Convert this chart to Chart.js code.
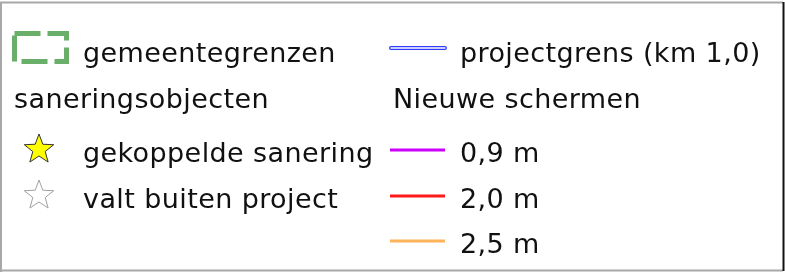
<!DOCTYPE html>
<html>
<head>
<meta charset="utf-8">
<script src="https://cdn.jsdelivr.net/npm/chart.js@4.4.1/dist/chart.umd.min.js"></script>
<style>
  html, body { margin: 0; padding: 0; background: #fff; }
  #wrap { width: 785px; height: 272px; }
</style>
</head>
<body>
<div id="wrap"><canvas id="legendChart" width="785" height="272"></canvas></div>
<script>
// legend content
const boundaryLabels = ["gemeentegrenzen", "projectgrens (km 1,0)"];
const objectHeader = "saneringsobjecten";
const objectLabels = ["gekoppelde sanering", "valt buiten project"];
const screenHeader = "Nieuwe schermen";
const screenLabels = ["0,9 m", "2,0 m", "2,5 m"];

// styles
const screenColors = ["#cc00ff", "#ff1a1a", "#ffb35c"];
const starFills = ["#ffff00", "#ffffff"];
const starStrokes = ["#333333", "#a0a0a0"];
const FONT = "27px 'DejaVu Sans'";

const rowY = [62, 108, 162, 208, 253];   // text baselines
const leftTextX = 83;
const rightIconX = 390, rightTextX = 460;

function star(ctx, cx, cy, r, fill, stroke) {
  ctx.beginPath();
  for (let i = 0; i < 10; i++) {
    const rr = i % 2 === 0 ? r : r * 0.42;
    const a = -Math.PI / 2 + i * Math.PI / 5;
    const px = cx + rr * Math.cos(a), py = cy + rr * Math.sin(a);
    i === 0 ? ctx.moveTo(px, py) : ctx.lineTo(px, py);
  }
  ctx.closePath();
  ctx.fillStyle = fill;
  ctx.fill();
  ctx.lineWidth = 1;
  ctx.strokeStyle = stroke;
  ctx.stroke();
}

const legendPlugin = {
  id: "mapLegend",
  afterDraw(chart) {
    const ctx = chart.ctx;
    ctx.save();
    // frame
    ctx.lineWidth = 2;
    ctx.strokeStyle = "#a8a8a8";
    ctx.beginPath();
    ctx.moveTo(1, 272); ctx.lineTo(1, 2.5); ctx.lineTo(783, 2.5);
    ctx.moveTo(1, 270.5); ctx.lineTo(783, 270.5);
    ctx.stroke();
    ctx.strokeStyle = "#111";
    ctx.beginPath();
    ctx.moveTo(783.5, 2); ctx.lineTo(783.5, 271);
    ctx.stroke();

    ctx.font = FONT;
    ctx.letterSpacing = "0.4px";
    ctx.fillStyle = "#111";
    ctx.textBaseline = "alphabetic";

    // row 1: boundaries
    ctx.save();
    ctx.strokeStyle = "#69ae69";
    ctx.lineWidth = 5;
    ctx.setLineDash([26, 7]);
    ctx.strokeRect(14.5, 33.5, 52, 28);
    ctx.restore();
    ctx.fillText(boundaryLabels[0], leftTextX, rowY[0]);

    ctx.save();
    ctx.lineCap = "round";
    ctx.strokeStyle = "#2a3cff";
    ctx.lineWidth = 4;
    ctx.beginPath(); ctx.moveTo(rightIconX + 1, 48); ctx.lineTo(rightIconX + 55, 48); ctx.stroke();
    ctx.strokeStyle = "#fff";
    ctx.lineWidth = 1.5;
    ctx.beginPath(); ctx.moveTo(rightIconX + 1, 48); ctx.lineTo(rightIconX + 55, 48); ctx.stroke();
    ctx.restore();
    ctx.fillText(boundaryLabels[1], rightTextX, rowY[0]);

    // headers
    ctx.fillText(objectHeader, 14, rowY[1]);
    ctx.fillText(screenHeader, 393, rowY[1]);

    // objects
    objectLabels.forEach((lab, i) => {
      star(ctx, 39, rowY[2 + i] - 12.5, 15.5, starFills[i], starStrokes[i]);
      ctx.fillStyle = "#111";
      ctx.fillText(lab, leftTextX, rowY[2 + i]);
    });

    // screens, colors taken from datasets
    chart.data.datasets.forEach((ds, i) => {
      const y = rowY[2 + i] - 12;
      ctx.strokeStyle = ds.borderColor;
      ctx.lineWidth = 3;
      ctx.beginPath(); ctx.moveTo(rightIconX, y); ctx.lineTo(rightIconX + 55, y); ctx.stroke();
      ctx.fillStyle = "#111";
      ctx.fillText(ds.label, rightTextX, rowY[2 + i]);
    });
    ctx.restore();
  }
};

new Chart(document.getElementById("legendChart"), {
  type: "line",
  data: {
    labels: [],
    datasets: screenLabels.map((lab, i) => ({
      label: lab,
      data: [],
      borderColor: screenColors[i]
    }))
  },
  options: {
    responsive: false,
    animation: false,
    events: [],
    plugins: { legend: { display: false }, tooltip: { enabled: false } },
    scales: { x: { display: false }, y: { display: false } }
  },
  plugins: [legendPlugin]
});
</script>
</body>
</html>
